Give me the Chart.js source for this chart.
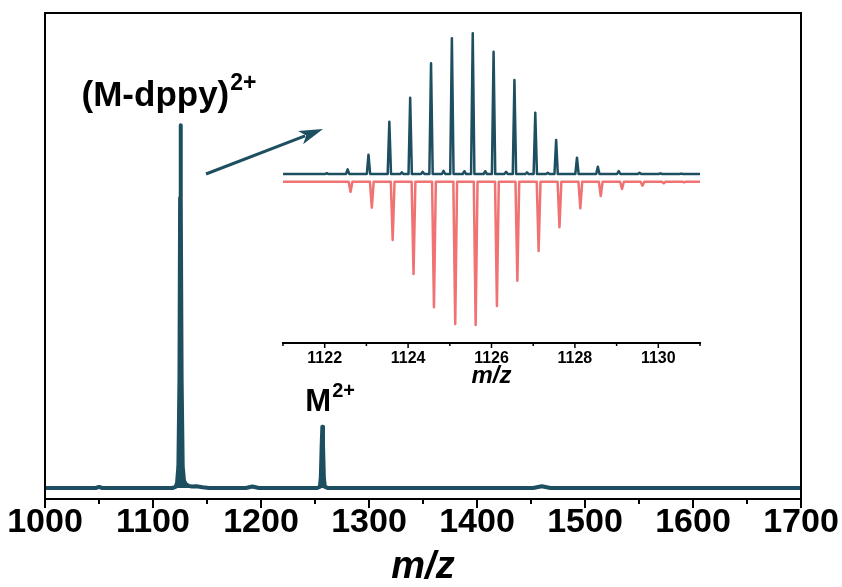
<!DOCTYPE html>
<html>
<head>
<meta charset="utf-8">
<title>ESI-MS</title>
<script src="https://cdn.jsdelivr.net/npm/chart.js@4.4.1/dist/chart.umd.min.js"></script>
<style>
  body { margin: 0; background: #fff; }
  #wrap { position: relative; width: 842px; height: 587px; }
  #main { position: absolute; left: 0; top: 0; }
  #inset { position: absolute; left: 270px; top: 18px; }
</style>
</head>
<body>
<div id="wrap">
  <canvas id="main" width="842" height="587"></canvas>
  <canvas id="inset" width="445" height="380"></canvas>
</div>
<script>
// full scan, relative intensity (base peak = 100)
const fullMz  = [1000, 1047, 1050, 1053, 1100, 1118, 1121, 1122.3, 1123.5, 1124.5, 1125.1, 1125.5, 1125.9, 1126.5, 1127.5, 1128.7, 1130.5, 1133, 1136, 1140, 1146, 1152,
                 1186, 1192, 1198, 1252, 1254.5, 1255.4, 1256.2, 1256.8, 1257.4, 1258.2, 1259.1, 1262, 1452, 1460, 1468, 1700];
const fullInt = [0, 0, 0.3, 0, 0, 0, 0.3, 1.5, 6, 30, 80, 100, 80, 30, 6, 2, 1, 0.6, 0.4, 0.5, 0.2, 0,
                 0, 0.4, 0, 0, 0.3, 3, 12, 16.9, 12, 3, 0.3, 0, 0, 0.5, 0, 0];
const fullTicks = [1000, 1100, 1200, 1300, 1400, 1500, 1600, 1700];
const fullMinorTicks = [1050, 1150, 1250, 1350, 1450, 1550, 1650];

// isotope envelope of (M-dppy)2+ : measured (up) and simulated (down)
const expMz  = [1122.55, 1123.05, 1123.55, 1124.05, 1124.55, 1125.05, 1125.55, 1126.05, 1126.55, 1127.05, 1127.55, 1128.05, 1128.55, 1129.05, 1129.55, 1130.05, 1130.55];
const expInt = [3.3, 13.7, 37.2, 54.2, 78.7, 96.4, 100, 86.9, 66.8, 43.6, 24.2, 11.6, 5.2, 2.1, 0.9, 0.5, 0.3];
const expMinorMz  = [1122.05, 1123.85, 1124.35, 1124.85, 1125.35, 1125.85, 1126.35, 1126.85, 1127.35];
const expMinorInt = [0.6, 1.2, 1.5, 2.2, 2.0, 2.0, 1.5, 1.2, 0.8];
const simMz  = [1122.62, 1123.13, 1123.63, 1124.13, 1124.62, 1125.13, 1125.62, 1126.13, 1126.62, 1127.13, 1127.63, 1128.13, 1128.62, 1129.13, 1129.62, 1130.13, 1130.62];
const simInt = [7.0, 18.1, 40.7, 64.4, 87.6, 99.3, 100, 86.7, 69.1, 48.4, 31.8, 18.6, 10.0, 5.1, 2.8, 1.1, 0.5];
const insetTicks = [1122, 1124, 1126, 1128, 1130];
const insetMinorTicks = [1121, 1123, 1125, 1127, 1129, 1131];

const TEAL = '#1d4f60';
const CORAL = '#f07272';
const FONT = '"Liberation Sans", Arial, sans-serif';

// turn centroid lists into a stick profile sitting on a flat baseline
function sticks(groups, halfWidth, lo, hi) {
  const pts = [];
  groups.forEach(([mz, ints]) => mz.forEach((c, i) => pts.push([c, ints[i]])));
  pts.sort((a, b) => a[0] - b[0]);
  const out = [{x: lo, y: 0}];
  pts.forEach(([c, h]) => {
    out.push({x: c - halfWidth, y: 0}, {x: c, y: h}, {x: c + halfWidth, y: 0});
  });
  out.push({x: hi, y: 0});
  return out;
}

// tick marks drawn under the x axis, long for labelled values, short in between
const tickMarks = {
  id: 'tickMarks',
  afterDraw(chart, args, opts) {
    const {ctx, chartArea} = chart;
    const sx = chart.scales.x;
    ctx.save();
    ctx.strokeStyle = '#000';
    ctx.lineWidth = opts.width;
    const mark = (v, len) => {
      const px = sx.getPixelForValue(v);
      ctx.beginPath();
      ctx.moveTo(px, chartArea.bottom);
      ctx.lineTo(px, chartArea.bottom + len);
      ctx.stroke();
    };
    opts.major.forEach(v => mark(v, opts.majorLen));
    opts.minor.forEach(v => mark(v, opts.minorLen));
    ctx.restore();
  }
};

const frame = {
  id: 'frame',
  afterDraw(chart) {
    const {ctx, chartArea: a} = chart;
    ctx.save();
    ctx.strokeStyle = '#000';
    ctx.lineWidth = 2;
    ctx.strokeRect(a.left, a.top, a.right - a.left, a.bottom - a.top);
    ctx.restore();
  }
};

function chargeLabel(ctx, text, charge, x, y, size) {
  ctx.font = 'bold ' + size + 'px ' + FONT;
  ctx.fillText(text, x, y);
  const w = ctx.measureText(text).width;
  ctx.font = 'bold ' + Math.round(size * 0.66) + 'px ' + FONT;
  ctx.fillText(charge, x + w + 1, y - size * 0.45);
}

const annotations = {
  id: 'annotations',
  afterDatasetsDraw(chart) {
    const {ctx, scales: {x, y}} = chart;
    ctx.save();
    ctx.fillStyle = '#000';
    ctx.textBaseline = 'alphabetic';
    chargeLabel(ctx, '(M-dppy)', '2+', x.getPixelForValue(1125.5) - 99, y.getPixelForValue(100) - 19, 35);
    chargeLabel(ctx, 'M', '2+', x.getPixelForValue(1256.8) - 17, y.getPixelForValue(16.9) - 16, 31);

    // arrow pointing from the base peak to the zoomed envelope
    const x0 = 206, y0 = 174, x1 = 323, y1 = 129;
    const ang = Math.atan2(y1 - y0, x1 - x0);
    const head = 24, half = 7;
    ctx.strokeStyle = TEAL;
    ctx.fillStyle = TEAL;
    ctx.lineWidth = 3;
    ctx.beginPath();
    ctx.moveTo(x0, y0);
    ctx.lineTo(x1 - Math.cos(ang) * head * 0.8, y1 - Math.sin(ang) * head * 0.8);
    ctx.stroke();
    ctx.beginPath();
    ctx.moveTo(x1, y1);
    ctx.lineTo(x1 - Math.cos(ang) * head - Math.sin(ang) * half, y1 - Math.sin(ang) * head + Math.cos(ang) * half);
    ctx.lineTo(x1 - Math.cos(ang) * head * 0.75, y1 - Math.sin(ang) * head * 0.75);
    ctx.lineTo(x1 - Math.cos(ang) * head + Math.sin(ang) * half, y1 - Math.sin(ang) * head - Math.cos(ang) * half);
    ctx.closePath();
    ctx.fill();
    ctx.restore();
  }
};

const plainNumber = v => String(v);

new Chart(document.getElementById('main'), {
  type: 'line',
  data: {
    datasets: [{
      data: fullMz.map((m, i) => ({x: m, y: fullInt[i]})),
      borderColor: TEAL,
      backgroundColor: TEAL,
      borderWidth: 4,
      borderJoinStyle: 'round',
      fill: 'origin',
      pointRadius: 0,
      tension: 0
    }]
  },
  options: {
    responsive: false,
    animation: false,
    events: [],
    layout: {padding: {left: 45, right: 41, top: 13, bottom: 0}},
    plugins: {
      legend: {display: false},
      tooltip: {enabled: false},
      tickMarks: {major: fullTicks, minor: fullMinorTicks, majorLen: 9, minorLen: 5, width: 2}
    },
    scales: {
      x: {
        type: 'linear', min: 1000, max: 1700,
        afterBuildTicks: s => { s.ticks = fullTicks.map(v => ({value: v})); },
        afterFit: s => { s.height = 88; },
        grid: {display: false, drawTicks: true, tickLength: 7},
        border: {display: false},
        ticks: {
          color: '#000', padding: 0, maxRotation: 0, autoSkip: false, callback: plainNumber,
          font: {family: FONT, size: 34, weight: 'bold', lineHeight: 1}
        },
        title: {
          display: true, text: 'm/z', color: '#000',
          font: {family: FONT, size: 38, weight: 'bold', style: 'italic', lineHeight: 1},
          padding: {top: 0, bottom: 0}
        }
      },
      y: {display: false, min: -3.03, max: 130.9}
    }
  },
  plugins: [frame, tickMarks, annotations]
});

new Chart(document.getElementById('inset'), {
  type: 'line',
  data: {
    datasets: [{
      data: sticks([[expMz, expInt], [expMinorMz, expMinorInt]], 0.04, 1121, 1131),
      yAxisID: 'yExp',
      borderColor: TEAL,
      borderWidth: 2.5,
      borderJoinStyle: 'round',
      pointRadius: 0,
      tension: 0
    }, {
      data: sticks([[simMz, simInt]], 0.045, 1121, 1131),
      yAxisID: 'ySim',
      borderColor: CORAL,
      borderWidth: 2.5,
      borderJoinStyle: 'round',
      pointRadius: 0,
      tension: 0
    }]
  },
  options: {
    responsive: false,
    animation: false,
    events: [],
    layout: {padding: {left: 13, right: 15, top: 7, bottom: 0}},
    plugins: {
      legend: {display: false},
      tooltip: {enabled: false},
      tickMarks: {major: insetTicks, minor: insetMinorTicks, majorLen: 5, minorLen: 3, width: 1.5}
    },
    scales: {
      x: {
        type: 'linear', min: 1121, max: 1131,
        afterBuildTicks: s => { s.ticks = insetTicks.map(v => ({value: v})); },
        afterFit: s => { s.height = 55; },
        grid: {display: false, drawTicks: true, tickLength: 4},
        border: {display: true, color: '#000', width: 2},
        ticks: {
          color: '#000', padding: 4, maxRotation: 0, autoSkip: false, callback: plainNumber,
          font: {family: FONT, size: 16, weight: 'bold', lineHeight: 1}
        },
        title: {
          display: true, text: 'm/z', color: '#000',
          font: {family: FONT, size: 24, weight: 'bold', style: 'italic', lineHeight: 1},
          padding: {top: 0, bottom: 10}
        }
      },
      yExp: {display: false, position: 'left', min: -120.1, max: 105.9},
      ySim: {display: false, position: 'left', reverse: true, min: -109.35, max: 112.56}
    }
  },
  plugins: [tickMarks]
});
</script>
</body>
</html>
